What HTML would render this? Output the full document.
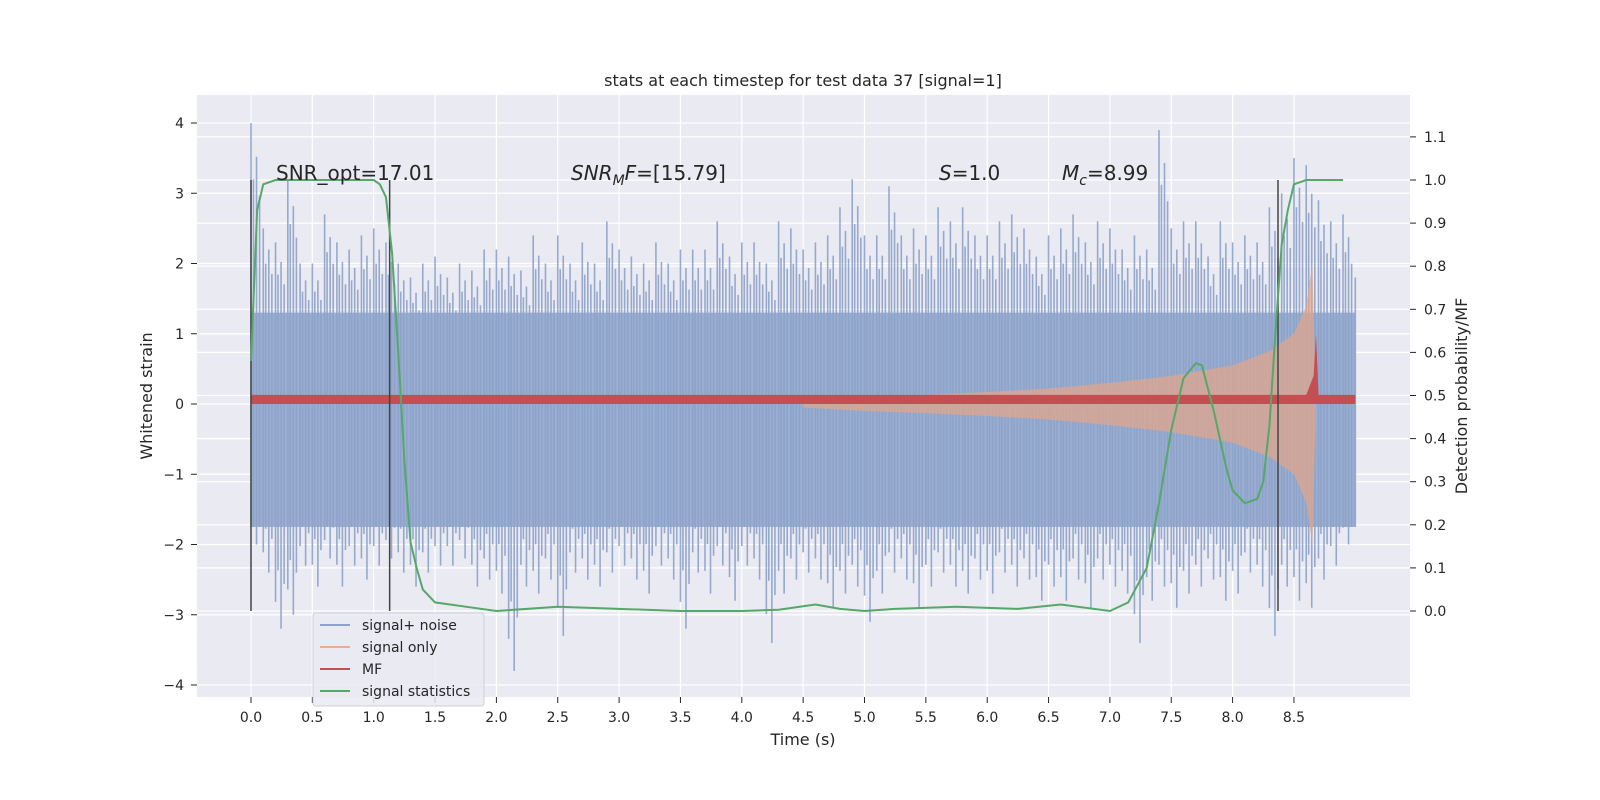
<!DOCTYPE html>
<html><head><meta charset="utf-8">
<style>
html,body{margin:0;padding:0;background:#fff;overflow:hidden;width:1600px;height:800px;}
svg{display:block;}
svg text{font-family:"DejaVu Sans","Liberation Sans",sans-serif;fill:#262626;}
</style></head>
<body>
<svg id="chart" width="1600" height="800" xmlns="http://www.w3.org/2000/svg">
<rect x="0" y="0" width="1600" height="800" fill="#fff"/>
<rect x="197" y="95" width="1213" height="602" fill="#eaeaf2"/>
<g id="grid"></g>
<g id="marks"></g>
<g id="axes"></g>
<text x="803" y="86" font-size="16" text-anchor="middle">stats at each timestep for test data 37 [signal=1]</text>
<text x="803" y="745" font-size="16" text-anchor="middle">Time (s)</text>
<text transform="translate(152,396) rotate(-90)" font-size="16" text-anchor="middle">Whitened strain</text>
<text transform="translate(1467,396) rotate(-90)" font-size="16" text-anchor="middle">Detection probability/MF</text>
<text x="276" y="180" font-size="20">SNR_opt=17.01</text>
<text x="571" y="180" font-size="20"><tspan font-style="italic">SNR</tspan><tspan font-style="italic" font-size="14" dy="5">M</tspan><tspan font-style="italic" dy="-5">F</tspan>=[15.79]</text>
<text x="939" y="180" font-size="20"><tspan font-style="italic">S</tspan>=1.0</text>
<text x="1062" y="180" font-size="20"><tspan font-style="italic">M</tspan><tspan font-style="italic" font-size="14" dy="5">c</tspan><tspan dy="-5">=8.99</tspan></text>
<g>
<rect x="313" y="613" width="171" height="93" rx="3" fill="#eaeaf2" stroke="#d0d0d8" fill-opacity="0.85"/>
<line x1="320" y1="625" x2="350" y2="625" stroke="#8da2c9" stroke-width="2"/><text x="362" y="630" font-size="14">signal+ noise</text>
<line x1="320" y1="647" x2="350" y2="647" stroke="#eeae8c" stroke-width="2"/><text x="362" y="652" font-size="14">signal only</text>
<line x1="320" y1="669" x2="350" y2="669" stroke="#c44e52" stroke-width="2"/><text x="362" y="674" font-size="14">MF</text>
<line x1="320" y1="691" x2="350" y2="691" stroke="#55a868" stroke-width="2"/><text x="362" y="696" font-size="14">signal statistics</text>
</g>
</svg>
<script>
const noiseUpper=[4.0,2.5,2.3,3.2,2.0,2.0,2.7,2.3,2.2,2.4,2.5,2.3,2.0,1.8,2.0,2.1,1.8,2.0,1.9,2.2,2.2,2.1,1.9,2.4,2.0,2.4,2.0,2.3,2.0,2.6,2.2,2.1,2.0,2.3,2.0,2.2,2.2,2.2,2.6,2.1,2.3,2.3,2.0,2.6,2.5,2.2,2.3,2.4,2.8,3.2,2.4,2.4,3.1,2.4,2.5,2.4,2.8,2.6,2.8,2.4,2.4,2.6,2.7,2.5,2.1,2.4,2.5,2.7,2.3,2.6,2.5,2.2,2.4,2.2,3.9,2.5,2.6,2.6,2.1,2.6,2.3,2.4,2.3,2.8,3.0,3.5,3.4,2.9,2.6,2.7,1.8];
const noiseLower=[-2.0,-2.4,-3.2,-3.0,-2.3,-2.6,-2.2,-2.6,-2.3,-2.5,-2.3,-2.2,-2.4,-2.6,-2.4,-2.3,-2.3,-2.2,-2.6,-2.5,-2.7,-3.8,-2.6,-2.7,-2.5,-3.3,-2.4,-2.5,-2.6,-2.4,-2.3,-2.5,-2.7,-2.3,-2.5,-3.2,-2.4,-2.7,-2.3,-2.8,-2.3,-2.5,-3.4,-2.7,-2.5,-2.4,-2.5,-2.9,-2.7,-2.6,-3.1,-2.7,-2.4,-2.5,-2.9,-2.6,-2.4,-2.6,-2.7,-2.5,-2.7,-2.4,-2.6,-2.5,-2.8,-2.6,-2.8,-2.5,-2.9,-2.5,-2.6,-2.7,-3.4,-2.8,-2.6,-2.9,-2.7,-2.6,-2.5,-2.8,-2.7,-2.4,-2.6,-3.3,-2.6,-2.8,-2.9,-2.5,-2.3,-2.0,-1.8];
const chirpT=[4.5,5.0,5.5,6.0,6.5,7.0,7.5,8.0,8.3,8.5,8.6,8.65,8.68];
const chirpAmp=[0.05,0.1,0.13,0.17,0.22,0.3,0.4,0.55,0.75,1.0,1.4,2.0,0];
const mfT=[0,8.6,8.66,8.68,8.7,9.0];
const mfV=[0.13,0.13,0.4,1.0,0.13,0.13];
const statT=[0,0.05,0.1,0.2,0.5,1.0,1.05,1.1,1.15,1.2,1.25,1.3,1.35,1.4,1.5,1.75,2.0,2.5,3.0,3.5,4.0,4.3,4.6,4.8,5.0,5.25,5.75,6.25,6.6,7.0,7.15,7.3,7.4,7.5,7.6,7.7,7.75,7.85,7.95,8.0,8.1,8.2,8.25,8.3,8.35,8.4,8.45,8.5,8.6,8.9];
const statP=[0.58,0.93,0.99,1.0,1.0,1.0,0.99,0.96,0.83,0.6,0.35,0.16,0.1,0.05,0.02,0.01,0.0,0.01,0.005,0.0,0.0,0.003,0.015,0.005,0.0,0.005,0.01,0.005,0.015,0.0,0.02,0.1,0.25,0.42,0.54,0.575,0.57,0.46,0.33,0.28,0.25,0.26,0.3,0.43,0.65,0.85,0.93,0.99,1.0,1.0];
const vLines=[0,1.13,8.37];
const xTicks=[0,0.5,1,1.5,2,2.5,3,3.5,4,4.5,5,5.5,6,6.5,7,7.5,8,8.5];
const yTicks=[-4,-3,-2,-1,0,1,2,3,4];
const y2Ticks=[0,0.1,0.2,0.3,0.4,0.5,0.6,0.7,0.8,0.9,1.0,1.1];

const X=t=>251+t*122.7, Y=v=>404-v*70.25, Y2=p=>611-p*431;
const NS="http://www.w3.org/2000/svg";
function mk(parent,tag,attrs){const e=document.createElementNS(NS,tag);for(const k in attrs)e.setAttribute(k,attrs[k]);parent.appendChild(e);return e;}
const grid=document.getElementById('grid'),marks=document.getElementById('marks'),axes=document.getElementById('axes');
xTicks.forEach(t=>{const l=mk(grid,'line',{x1:X(t),x2:X(t),y1:95,y2:697,stroke:'#fff','stroke-width':1.2});

const tx=mk(axes,'text',{x:X(t),y:722,'font-size':14,'text-anchor':'middle'});tx.textContent=t.toFixed(1);

mk(axes,'line',{x1:X(t),x2:X(t),y1:697,y2:703,stroke:'#262626'});});
yTicks.forEach(v=>{const l=mk(grid,'line',{x1:197,x2:1410,y1:Y(v),y2:Y(v),stroke:'#fff','stroke-width':1.2});

const tx=mk(axes,'text',{x:184,y:Y(v)+5,'font-size':14,'text-anchor':'end'});tx.textContent=v<0?'\u2212'+(-v):v;

mk(axes,'line',{x1:191,x2:197,y1:Y(v),y2:Y(v),stroke:'#262626'});});
y2Ticks.forEach(p=>{const l=mk(grid,'line',{x1:197,x2:1410,y1:Y2(p),y2:Y2(p),stroke:'#fff','stroke-width':1.2});

const tx=mk(axes,'text',{x:1424,y:Y2(p)+5,'font-size':14});tx.textContent=p.toFixed(1);

mk(axes,'line',{x1:1410,x2:1416,y1:Y2(p),y2:Y2(p),stroke:'#262626'});});

const body=mk(marks,'rect',{x:X(0),y:Y(1.3),width:X(9)-X(0),height:Y(-1.75)-Y(1.3),fill:'#9aaed1'});

const fr=[0,0.2,0.45,0.7];const sc=[1,0.8,0.88,0.74];
noiseUpper.forEach((u,i)=>{const lo=noiseLower[i];
 fr.forEach((f,j)=>{const t=i*0.1+f*0.1; if(t>9)return;
  const l=mk(marks,'line',{x1:X(t),x2:X(t),y1:Y(Math.max(1.3,u*sc[j])),y2:Y(Math.min(-1.75,lo*sc[(j+2)%4])),stroke:'#8da2c9','stroke-width':1.6,'stroke-opacity':0.9});
  });});
let up=chirpT.map((t,i)=>X(t)+','+Y(chirpAmp[i])).join(' ');
let dn=chirpT.slice().reverse().map((t,i)=>X(t)+','+Y(-chirpAmp[chirpT.length-1-i])).join(' ');
const ch=mk(marks,'polygon',{points:up+' '+dn,fill:'#e6a588','fill-opacity':0.7});

const mfPts=mfT.map((t,i)=>X(t)+','+Y(mfV[i])).join(' ')+' '+X(9)+','+Y(0)+' '+X(0)+','+Y(0);
const mf=mk(marks,'polygon',{points:mfPts,fill:'#c44e52'});

vLines.forEach(t=>{const l=mk(marks,'line',{x1:X(t),x2:X(t),y1:Y2(1),y2:Y2(0),stroke:'#444','stroke-width':1.5});
});
const st=mk(marks,'polyline',{points:statT.map((t,i)=>X(t)+','+Y2(statP[i])).join(' '),fill:'none',stroke:'#55a868','stroke-width':2});

</script>
</body></html>
